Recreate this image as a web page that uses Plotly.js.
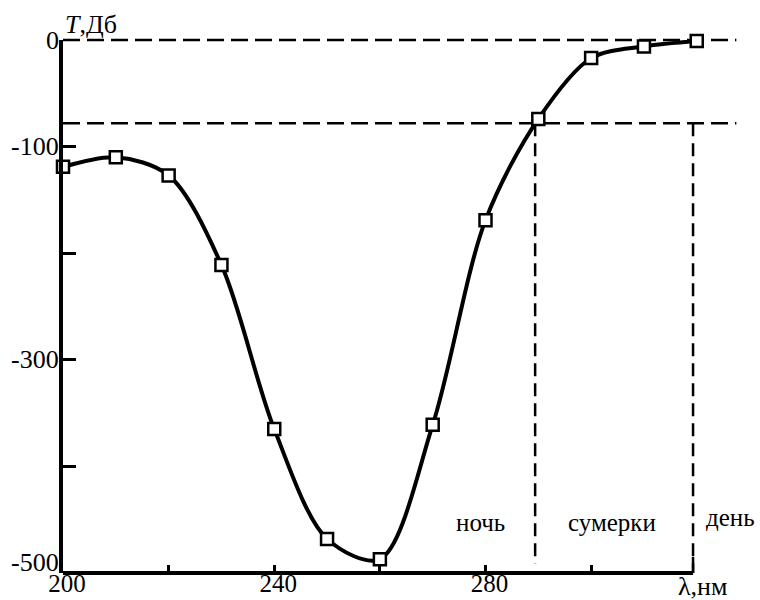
<!DOCTYPE html>
<html>
<head>
<meta charset="utf-8">
<script src="https://cdn.plot.ly/plotly-3.0.1.min.js"></script>
<style>html,body{margin:0;padding:0;background:#fff;}#chart{width:760px;height:600px;}</style>
</head>
<body>
<div id="chart"></div>
<script>
// Data
const wavelength = [200, 210, 220, 230, 240, 250, 260, 270, 280, 290, 300, 310, 320];
const attenuation = [-119, -110, -127, -211, -365, -468, -487, -361, -169, -74, -17, -6, -1];
const xTickVals = [200, 220, 240, 260, 280, 300];
const xTickText = ['200', '', '240', '', '280', ''];
const yTickVals = [0, -100, -200, -300, -400, -500];
const yTickText = ['0', '-100', '', '-300', '', '-500'];
const thresholdLevel = -78;
const zeroLevel = 0;
const boundaryNightTwilight = 289.4;
const boundaryTwilightDay = 319.3;
const zoneLabels = ['ночь', 'сумерки', 'день'];
const zoneLabelX = [279, 304, 326.3];
const zoneLabelY = [-453, -453, -448];

const X_RANGE = [200, 328];
const Y_RANGE = [-500, 0];
const FONT = 'Liberation Serif';

// convert data coordinates to paper fractions (paper-ref items are not clipped / hidden)
const px = v => (v - X_RANGE[0]) / (X_RANGE[1] - X_RANGE[0]);
const py = v => (v - Y_RANGE[0]) / (Y_RANGE[1] - Y_RANGE[0]);

const curve = {
  x: wavelength,
  y: attenuation,
  type: 'scatter',
  mode: 'lines',
  line: {color: '#000', width: 4, shape: 'spline', smoothing: 0.9},
  cliponaxis: false,
  hoverinfo: 'skip',
  showlegend: false
};
const markers = {
  x: wavelength,
  y: attenuation,
  type: 'scatter',
  mode: 'markers',
  marker: {symbol: 'square', size: 12, color: '#fff', line: {color: '#000', width: 2.5}},
  cliponaxis: false,
  hoverinfo: 'skip',
  showlegend: false
};

const dashH = '17px,7px';
const dashV = '13px,7px';
const shapes = [
  {type: 'line', xref: 'paper', yref: 'paper', x0: px(200), x1: px(327.5), y0: py(zeroLevel), y1: py(zeroLevel),
   line: {color: '#000', width: 2.5, dash: dashH}, layer: 'below'},
  {type: 'line', xref: 'paper', yref: 'paper', x0: px(200), x1: px(327.5), y0: py(thresholdLevel), y1: py(thresholdLevel),
   line: {color: '#000', width: 2.5, dash: dashH}, layer: 'below'},
  {type: 'line', xref: 'paper', yref: 'paper', x0: px(boundaryNightTwilight), x1: px(boundaryNightTwilight), y0: py(thresholdLevel), y1: py(-491),
   line: {color: '#000', width: 2.5, dash: dashV}, layer: 'below'},
  {type: 'line', xref: 'paper', yref: 'paper', x0: px(boundaryTwilightDay), x1: px(boundaryTwilightDay), y0: py(thresholdLevel), y1: py(-500),
   line: {color: '#000', width: 2.5, dash: dashV}, layer: 'below'},
  {type: 'line', xref: 'paper', yref: 'paper', x0: px(boundaryTwilightDay), x1: px(boundaryTwilightDay), y0: py(-485), y1: py(-500),
   line: {color: '#000', width: 2.5}, layer: 'below'},
  // x axis line (ends at the day boundary)
  {type: 'line', xref: 'paper', yref: 'paper', x0: px(200), x1: px(boundaryTwilightDay), y0: py(-500), y1: py(-500),
   line: {color: '#000', width: 4}, layer: 'above'}
];

const annotations = zoneLabels.map((t, i) => ({
  x: px(zoneLabelX[i]), y: py(zoneLabelY[i]), xref: 'paper', yref: 'paper', text: t, showarrow: false,
  font: {family: FONT, size: 25, color: '#000'}, xanchor: 'center', yanchor: 'middle'
}));
// y tick labels (the bottom one sits a little above its tick, as in the reference)
yTickVals.forEach((v, i) => {
  if (!yTickText[i]) return;
  annotations.push({
    xref: 'paper', yref: 'paper', x: 0, y: py(v), xshift: -2, yshift: (i === yTickVals.length - 1) ? 11 : 0,
    xanchor: 'right', yanchor: 'middle', text: yTickText[i], showarrow: false,
    font: {family: FONT, size: 26, color: '#000'}
  });
});
annotations.push({
  xref: 'paper', yref: 'paper', x: 0.0, y: 1.0, yshift: 16, xanchor: 'left', yanchor: 'middle',
  text: '<i>T</i>,Дб', showarrow: false, font: {family: FONT, size: 26, color: '#000'}
});
annotations.push({
  xref: 'paper', yref: 'paper', x: px(321), y: py(-513), xanchor: 'center', yanchor: 'middle',
  text: 'λ,нм', showarrow: false, font: {family: FONT, size: 26, color: '#000'}
});

const layout = {
  width: 760, height: 600,
  margin: {l: 63, r: 21, t: 40, b: 27, pad: 0},
  paper_bgcolor: '#fff', plot_bgcolor: '#fff',
  font: {family: FONT, size: 25, color: '#000'},
  xaxis: {
    range: X_RANGE, showline: false, showgrid: false, zeroline: false,
    tickmode: 'array', tickvals: xTickVals, ticktext: xTickText,
    ticks: 'inside', ticklen: 8, tickwidth: 3, tickcolor: '#000',
    tickfont: {family: FONT, size: 25, color: '#000'}, ticklabelstandoff: -7, ticklabelshift: 4
  },
  yaxis: {
    range: Y_RANGE, showline: true, linewidth: 4, linecolor: '#000', showgrid: false, zeroline: false,
    tickmode: 'array', tickvals: yTickVals, showticklabels: false,
    ticks: 'inside', ticklen: 13, tickwidth: 3, tickcolor: '#000'
  },
  shapes: shapes,
  annotations: annotations,
  showlegend: false
};

Plotly.newPlot('chart', [curve, markers], layout, {displayModeBar: false, staticPlot: true});
</script>
</body>
</html>
